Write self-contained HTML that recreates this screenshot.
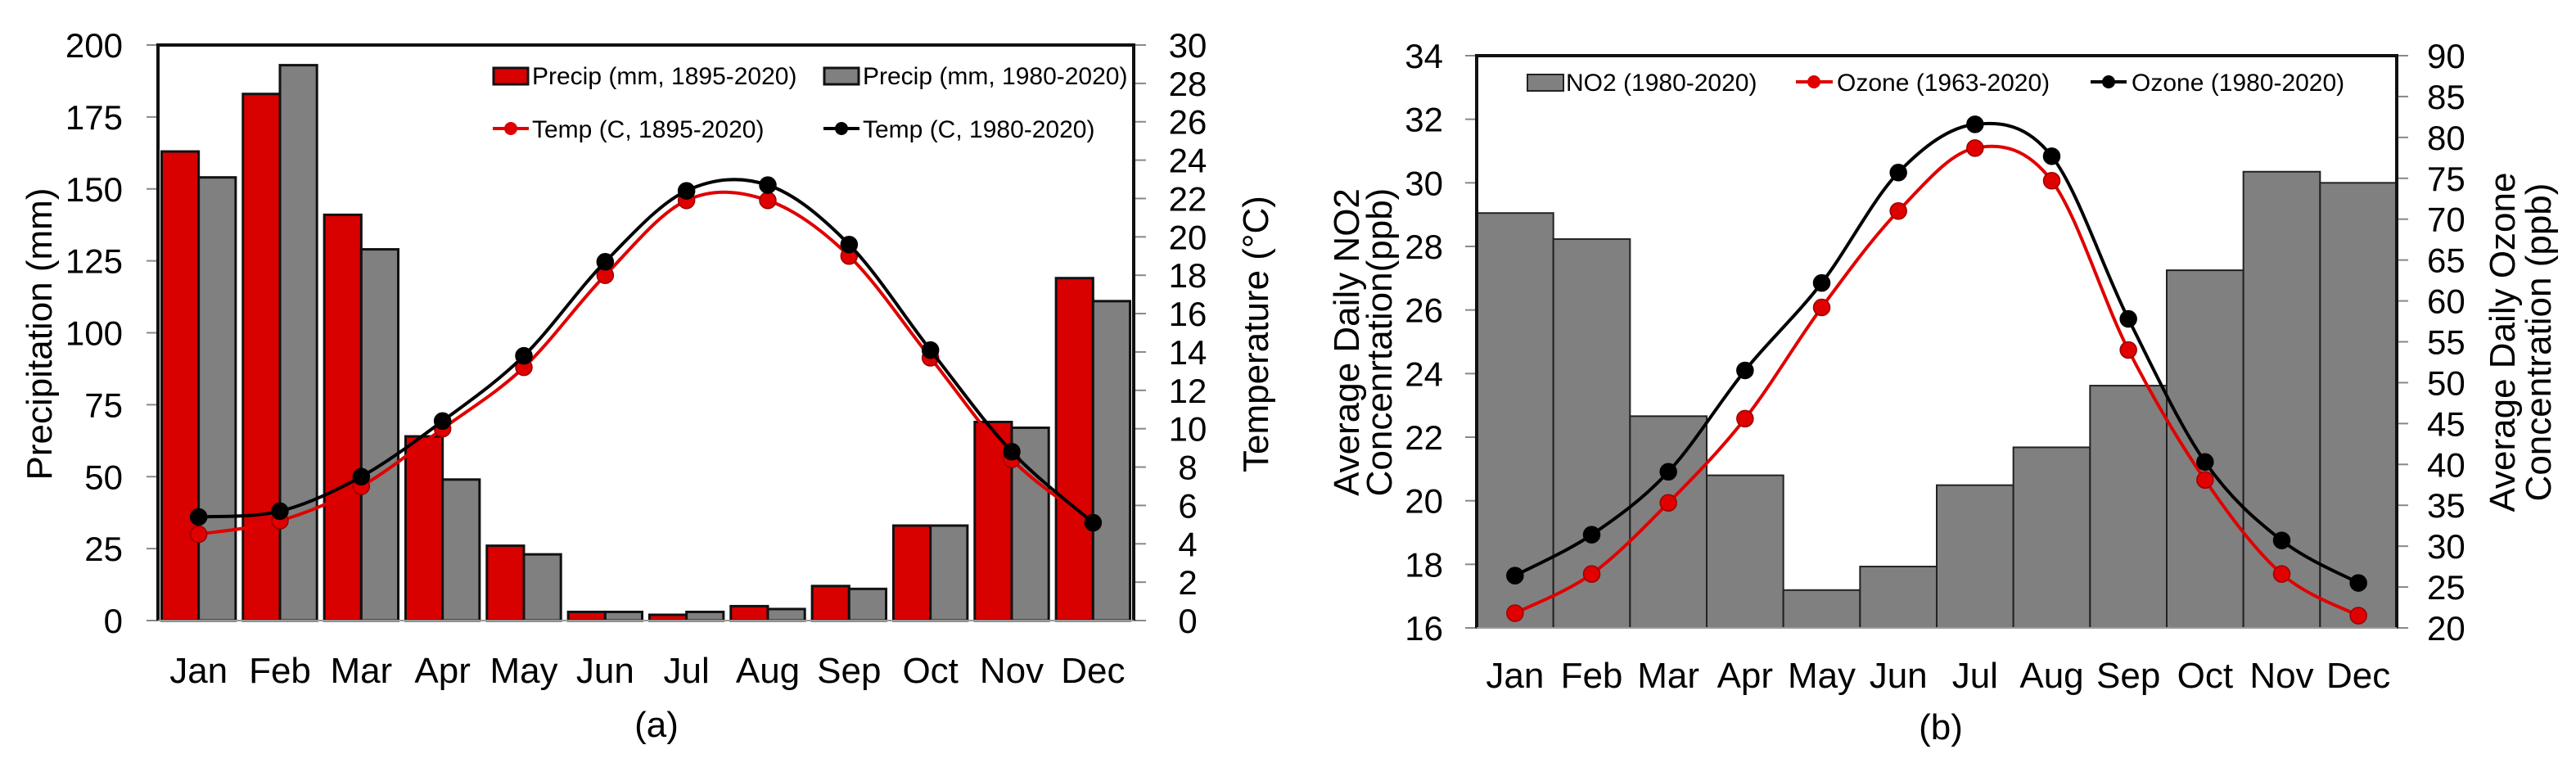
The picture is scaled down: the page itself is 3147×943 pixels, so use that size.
<!DOCTYPE html>
<html><head><meta charset="utf-8"><style>
html,body{margin:0;padding:0;background:#fff;}
svg{display:block;font-family:"Liberation Sans",Arial,sans-serif;}
</style></head><body>
<svg id="s" width="3147" height="943" viewBox="0 0 3147 943" xmlns="http://www.w3.org/2000/svg"></svg>
<script>
const months=["Jan","Feb","Mar","Apr","May","Jun","Jul","Aug","Sep","Oct","Nov","Dec"];
const precipLong=[163,183,141,64,26,3,2,5,12,33,69,119];
const precipRecent=[154,193,129,49,23,3,3,4,11,33,67,111];
const tempLong=[4.5,5.2,7.0,10.0,13.2,18.0,21.9,21.9,19.0,13.7,8.4,5.1];
const tempRecent=[5.4,5.7,7.5,10.4,13.8,18.7,22.4,22.7,19.6,14.1,8.8,5.1];
const precipTicks=[0,25,50,75,100,125,150,175,200];
const tempTicks=[0,2,4,6,8,10,12,14,16,18,20,22,24,26,28,30];
const no2=[29.05,28.23,22.66,20.8,17.19,17.93,20.49,21.68,23.62,27.25,30.35,30.0];
const ozoneLong=[21.8,26.6,35.3,45.6,59.2,71.0,78.7,74.7,54.0,38.1,26.6,21.5];
const ozoneRecent=[26.4,31.4,39.1,51.5,62.2,75.7,81.6,77.7,57.8,40.3,30.7,25.5];
const no2Ticks=[16,18,20,22,24,26,28,30,32,34];
const ozoneTicks=[20,25,30,35,40,45,50,55,60,65,70,75,80,85,90];

const S=document.getElementById('s');
const NS="http://www.w3.org/2000/svg";
function el(tag,attrs,parent){const e=document.createElementNS(NS,tag);for(const k in attrs)e.setAttribute(k,attrs[k]);(parent||S).appendChild(e);return e;}
function txt(x,y,str,size,anchor,parent,rot){const t=el('text',{x:x,y:y,'font-size':size,'text-anchor':anchor||'start',fill:'#000'},parent);if(rot)t.setAttribute('transform','rotate(-90 '+x+' '+y+')');t.textContent=str;return t;}
function smooth(pts){let d='M'+pts[0][0]+','+pts[0][1];for(let i=0;i<pts.length-1;i++){const p0=pts[i-1]||pts[i],p1=pts[i],p2=pts[i+1],p3=pts[i+2]||p2;const t=1/6;d+=' C'+(p1[0]+(p2[0]-p0[0])*t)+','+(p1[1]+(p2[1]-p0[1])*t)+' '+(p2[0]-(p3[0]-p1[0])*t)+','+(p2[1]-(p3[1]-p1[1])*t)+' '+p2[0]+','+p2[1];}return d;}

/* ---------- Chart (a) ---------- */
const A={l:193,r:1385,t:55,b:758};
const aG=el('g',{});
const aGw=(A.r-A.l)/12;
const ay=v=>A.b-(v/200)*(A.b-A.t);
const ayT=v=>A.b-(v/30)*(A.b-A.t);
const ax=i=>A.l+aGw*(i+0.5);
const bw=aGw*0.455;
el('rect',{x:A.l,y:A.t,width:A.r-A.l,height:A.b-A.t,fill:'#fff',stroke:'none'},aG);
precipTicks.forEach(v=>{el('line',{x1:A.l-14,x2:A.l,y1:ay(v),y2:ay(v),stroke:'#888','stroke-width':2},aG);const t=txt(150,ay(v)+15,String(v),42,'end',aG);});
tempTicks.forEach(v=>{el('line',{x1:A.r,x2:A.r+15,y1:ayT(v),y2:ayT(v),stroke:'#888','stroke-width':2},aG);const t=txt(1451,ayT(v)+15,String(v),42,'middle',aG);});
precipLong.forEach((v,i)=>{const r=el('rect',{x:ax(i)-bw,y:ay(v),width:bw,height:A.b-ay(v),fill:'#d90000',stroke:'#111','stroke-width':3},aG);});
precipRecent.forEach((v,i)=>{const r=el('rect',{x:ax(i),y:ay(v),width:bw,height:A.b-ay(v),fill:'#808080',stroke:'#111','stroke-width':3},aG);});
function series(vals,xf,yf,color,name,g){const p=el('path',{d:smooth(vals.map((v,i)=>[xf(i),yf(v)])),fill:'none',stroke:color,'stroke-width':4},g);vals.forEach((v,i)=>{const c=el('circle',{cx:xf(i),cy:yf(v),r:10,fill:color,stroke:color==='#e00000'?'#900':'#000','stroke-width':1.5},g);});}
series(tempLong,ax,ayT,'#e00000','temp-1895',aG);
series(tempRecent,ax,ayT,'#000','temp-1980',aG);
el('path',{d:'M'+A.l+','+A.b+' V'+A.t+' H'+A.r+' V'+A.b,fill:'none',stroke:'#111','stroke-width':4},aG);
el('line',{x1:A.l,x2:A.r,y1:A.b,y2:A.b,stroke:'#999','stroke-width':2},aG);
months.forEach((m,i)=>{const t=txt(ax(i),834,m,44,'middle',aG);});
let t=txt(63,408,'Precipitation (mm)',44,'middle',aG,true);
t=txt(1549,408,'Temperature (°C)',44,'middle',aG,true);
t=txt(802,900,'(a)',44,'middle',aG);
// legend a
const lgA=el('g',{},aG);
el('rect',{x:603,y:83,width:42,height:20,fill:'#d90000',stroke:'#111','stroke-width':3},lgA);
txt(650,103,'Precip (mm, 1895-2020)',30,'start',lgA);
el('rect',{x:1007,y:83,width:42,height:20,fill:'#808080',stroke:'#111','stroke-width':3},lgA);
txt(1054,103,'Precip (mm, 1980-2020)',30,'start',lgA);
el('line',{x1:602,x2:646,y1:157,y2:157,stroke:'#e00000','stroke-width':4},lgA);
el('circle',{cx:624,cy:157,r:8,fill:'#e00000'},lgA);
txt(650,168,'Temp (C, 1895-2020)',30,'start',lgA);
el('line',{x1:1006,x2:1050,y1:157,y2:157,stroke:'#000','stroke-width':4},lgA);
el('circle',{cx:1028,cy:157,r:8,fill:'#000'},lgA);
txt(1054,168,'Temp (C, 1980-2020)',30,'start',lgA);

/* ---------- Chart (b) ---------- */
const B={l:1804,r:2928,t:68,b:767};
const bG=el('g',{});
const bGw=(B.r-B.l)/12;
const by=v=>B.b-((v-16)/18)*(B.b-B.t);
const byO=v=>B.b-((v-20)/70)*(B.b-B.t);
const bx=i=>B.l+bGw*(i+0.5);
no2Ticks.forEach(v=>{el('line',{x1:B.l-14,x2:B.l,y1:by(v),y2:by(v),stroke:'#888','stroke-width':2},bG);const t=txt(1763,by(v)+15,String(v),42,'end',bG);});
ozoneTicks.forEach(v=>{el('line',{x1:B.r,x2:B.r+14,y1:byO(v),y2:byO(v),stroke:'#888','stroke-width':2},bG);const t=txt(2965,byO(v)+15,String(v),42,'start',bG);});
no2.forEach((v,i)=>{const r=el('rect',{x:B.l+bGw*i,y:by(v),width:bGw,height:B.b-by(v),fill:'#808080',stroke:'#222','stroke-width':2},bG);});
series(ozoneLong,bx,byO,'#e00000','ozone-1963',bG);
series(ozoneRecent,bx,byO,'#000','ozone-1980',bG);
el('path',{d:'M'+B.l+','+B.b+' V'+B.t+' H'+B.r+' V'+B.b,fill:'none',stroke:'#111','stroke-width':4},bG);
el('line',{x1:B.l,x2:B.r,y1:B.b,y2:B.b,stroke:'#999','stroke-width':2},bG);
months.forEach((m,i)=>{const t=txt(bx(i),840,m,44,'middle',bG);});
t=txt(1660,418,'Average Daily NO2',44,'middle',bG,true);
t=txt(1700,418,'Concenrtation(ppb)',44,'middle',bG,true);
t=txt(3072,418,'Average Daily Ozone',44,'middle',bG,true);
t=txt(3116,418,'Concentration (ppb)',44,'middle',bG,true);
t=txt(2371,903,'(b)',44,'middle',bG);
const lgB=el('g',{},bG);
el('rect',{x:1866,y:91,width:44,height:20,fill:'#808080',stroke:'#222','stroke-width':2},lgB);
txt(1913,111,'NO2 (1980-2020)',30,'start',lgB);
el('line',{x1:2194,x2:2239,y1:100,y2:100,stroke:'#e00000','stroke-width':4},lgB);
el('circle',{cx:2216,cy:100,r:8,fill:'#e00000'},lgB);
txt(2244,111,'Ozone (1963-2020)',30,'start',lgB);
el('line',{x1:2554,x2:2598,y1:100,y2:100,stroke:'#000','stroke-width':4},lgB);
el('circle',{cx:2576,cy:100,r:8,fill:'#000'},lgB);
txt(2604,111,'Ozone (1980-2020)',30,'start',lgB);
</script>
</body></html>
